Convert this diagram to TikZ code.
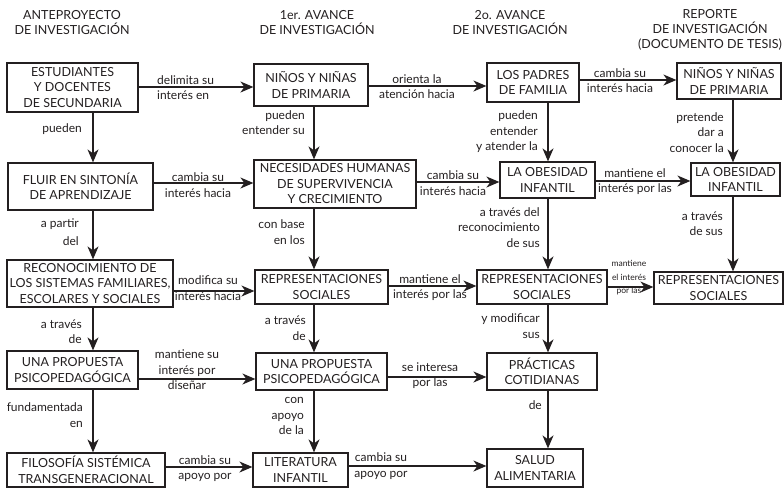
\documentclass[tikz,border=0pt]{standalone}
\usepackage{fontspec}
\setmainfont{Lato}
\usetikzlibrary{arrows.meta}
\definecolor{ink}{RGB}{35,31,32}
\begin{document}
\begin{tikzpicture}[x=1pt,y=-1pt,
  every node/.style={text=ink},
  box/.style={draw=ink,line width=1.2pt,align=center,inner sep=0pt,
    font=\fontsize{12.5}{15.5}\selectfont},
  hdr/.style={align=center,inner sep=0pt,font=\fontsize{12.5}{15}\selectfont},
  lbl/.style={align=center,inner sep=0pt,font=\fontsize{12}{15.5}\selectfont},
  vlbl/.style={align=right,anchor=east,inner sep=0pt,font=\fontsize{12}{15.5}\selectfont},
  tiny/.style={align=center,inner sep=0pt,font=\fontsize{8.5}{13.5}\selectfont},
  arr/.style={draw=ink,line width=1.5pt,-{Stealth[length=13pt,width=11pt,inset=4pt]}}]
\useasboundingbox (0,0) rectangle (784,488);

% column headings
\node[hdr] (h1) at (72,22.5) {ANTEPROYECTO\\DE INVESTIGACIÓN};
\node[hdr] (h2) at (317,22.5) {1er. AVANCE\\DE INVESTIGACIÓN};
\node[hdr] (h3) at (510,22.5) {2o. AVANCE\\DE INVESTIGACIÓN};
\node[hdr] (h4) at (710,30) {REPORTE\\DE INVESTIGACIÓN\\(DOCUMENTO DE TESIS)};

% column 1
\node[box,minimum width=131pt,minimum height=49pt] (A1) at (72.5,87.5) {ESTUDIANTES\\Y DOCENTES\\DE SECUNDARIA};
\node[box,minimum width=145pt,minimum height=47pt] (A2) at (80.5,186.5) {FLUIR EN SINTONÍA\\DE APRENDIZAJE};
\node[box,minimum width=166pt,minimum height=47pt] (A3) at (90,283.5) {RECONOCIMIENTO DE\\LOS SISTEMAS FAMILIARES,\\ESCOLARES Y SOCIALES};
\node[box,minimum width=131pt,minimum height=38pt] (A4) at (72.5,370) {UNA PROPUESTA\\PSICOPEDAGÓGICA};
\node[box,minimum width=158pt,minimum height=34pt] (A5) at (86,470) {FILOSOFÍA SISTÉMICA\\TRANSGENERACIONAL};

% column 2
\node[box,minimum width=114pt,minimum height=42pt] (B1) at (311,85) {NIÑOS Y NIÑAS\\DE PRIMARIA};
\node[box,minimum width=162pt,minimum height=48pt] (B2) at (335,184) {NECESIDADES HUMANAS\\DE SUPERVIVENCIA\\Y CRECIMIENTO};
\node[box,minimum width=133pt,minimum height=34pt] (B3) at (321.5,287) {REPRESENTACIONES\\SOCIALES};
\node[box,minimum width=131pt,minimum height=37pt] (B4) at (321.5,371.5) {UNA PROPUESTA\\PSICOPEDAGÓGICA};
\node[box,minimum width=95pt,minimum height=34pt] (B5) at (300.5,470) {LITERATURA\\INFANTIL};

% column 3
\node[box,minimum width=92pt,minimum height=39pt] (C1) at (533,82.5) {LOS PADRES\\DE FAMILIA};
\node[box,minimum width=95pt,minimum height=36pt] (C2) at (547.5,180) {LA OBESIDAD\\INFANTIL};
\node[box,minimum width=130pt,minimum height=34pt] (C3) at (542,287) {REPRESENTACIONES\\SOCIALES};
\node[box,minimum width=110pt,minimum height=37pt] (C4) at (542,371.5) {PRÁCTICAS\\COTIDIANAS};
\node[box,minimum width=96pt,minimum height=38pt] (C5) at (535,468) {SALUD\\ALIMENTARIA};

% column 4
\node[box,minimum width=104pt,minimum height=36pt] (D1) at (729,81) {NIÑOS Y NIÑAS\\DE PRIMARIA};
\node[box,minimum width=89pt,minimum height=33pt] (D2) at (735.5,179.5) {LA OBESIDAD\\INFANTIL};
\node[box,minimum width=129pt,minimum height=32pt] (D3) at (718.5,288) {REPRESENTACIONES\\SOCIALES};

% vertical guide lines of the four columns
\coordinate (X1) at (93,0);
\coordinate (X2) at (314,0);
\coordinate (X3) at (548,0);
\coordinate (X4) at (733,0);

% vertical connectors
\draw[arr] (A1.south -| X1) -- (A2.north -| X1);
\draw[arr] (A2.south -| X1) -- (A3.north -| X1);
\draw[arr] (A3.south -| X1) -- (A4.north -| X1);
\draw[arr] (A4.south -| X1) -- (A5.north -| X1);
\draw[arr] (B1.south -| X2) -- (B2.north -| X2);
\draw[arr] (B2.south -| X2) -- (B3.north -| X2);
\draw[arr] (B3.south -| X2) -- (B4.north -| X2);
\draw[arr] (B4.south -| X2) -- (B5.north -| X2);
\draw[arr] (C1.south -| X3) -- (C2.north -| X3);
\draw[arr] (C2.south -| X3) -- (C3.north -| X3);
\draw[arr] (C3.south -| X3) -- (C4.north -| X3);
\draw[arr] (C4.south -| X3) -- (C5.north -| X3);
\draw[arr] (D1.south -| X4) -- (D2.north -| X4);
\draw[arr] (D2.south -| X4) -- (D3.north -| X4);

% horizontal connectors
\draw[arr] (A1.east |- 0,87) -- (B1.west |- 0,87);
\draw[arr] (A2.east |- 0,183) -- (B2.west |- 0,183);
\draw[arr] (A3.east |- 0,291) -- (B3.west |- 0,291);
\draw[arr] (A4.east |- 0,379) -- (B4.west |- 0,379);
\draw[arr] (A5.east |- 0,467) -- (B5.west |- 0,467);
\draw[arr] (B1.east |- 0,86) -- (C1.west |- 0,86);
\draw[arr] (B2.east |- 0,182) -- (C2.west |- 0,182);
\draw[arr] (B3.east |- 0,286) -- (C3.west |- 0,286);
\draw[arr] (B4.east |- 0,377) -- (C4.west |- 0,377);
\draw[arr] (B5.east |- 0,466) -- (C5.west |- 0,466);
\draw[arr] (C1.east |- 0,80) -- (D1.west |- 0,80);
\draw[arr] (C2.east |- 0,181) -- (D2.west |- 0,181);
\draw[arr] (C3.east |- 0,287) -- (D3.west |- 0,287);

% labels on vertical connectors
\node[vlbl] (l1) at (82,129) {pueden};
\node[vlbl] (l2) at (79,232) {a partir\\[2pt]del};
\node[vlbl] (l3) at (82,331.5) {a través\\de};
\node[vlbl] (l4) at (83,415) {fundamentada\\en};
\node[vlbl] (l5) at (305,122.5) {pueden\\entender su};
\node[vlbl] (l6) at (305,232) {con base\\en los};
\node[vlbl] (l7) at (306,328) {a través\\de};
\node[vlbl] (l8) at (304,416) {con\\apoyo\\de la};
\node[vlbl] (l9) at (538,132) {pueden\\entender\\y atender la};
\node[vlbl] (l10) at (540,227.5) {a través del\\reconocimiento\\de sus};
\node[vlbl] (l11) at (540,326) {y modificar\\sus};
\node[vlbl] (l12) at (542,405) {de};
\node[vlbl] (l13) at (724,132.5) {pretende\\dar a\\conocer la};
\node[vlbl] (l14) at (723,223.5) {a través\\de sus};

% labels on horizontal connectors
\node[lbl,align=left,anchor=west] (m1) at (157,87.5) {delimita su\\interés en};
\node[lbl] (m2) at (198,185) {cambia su\\interés hacia};
\node[lbl] (m3) at (208,288) {modifica su\\interés hacia};
\node[lbl] (m4) at (187,370) {mantiene su\\interés por\\diseñar};
\node[lbl] (m5) at (205,468.5) {cambia su\\apoyo por};
\node[lbl] (m6) at (417,86.5) {orienta la\\atención hacia};
\node[lbl] (m7) at (453,183) {cambia su\\interés hacia};
\node[lbl] (m8) at (430,287.5) {mantiene el\\interés por las};
\node[lbl] (m9) at (430,375.5) {se interesa\\por las};
\node[lbl] (m10) at (381,466) {cambia su\\apoyo por};
\node[lbl] (m11) at (620,80.5) {cambia su\\interés hacia};
\node[lbl] (m12) at (635,181.5) {mantiene el\\interés por las};
\node[tiny] (m13) at (629,278) {mantiene\\el interés\\por las};
\end{tikzpicture}
\end{document}
